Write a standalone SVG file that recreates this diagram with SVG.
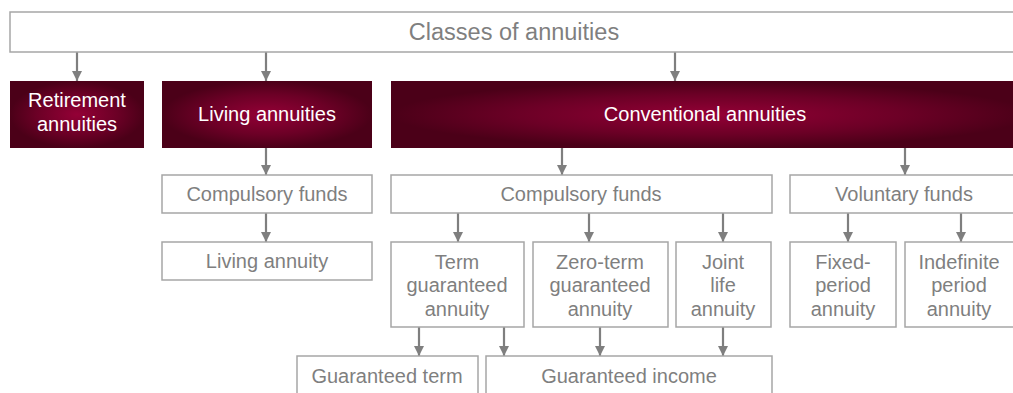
<svg xmlns="http://www.w3.org/2000/svg" width="1013" height="393" viewBox="0 0 1013 393">
<defs>
<radialGradient id="dark" cx="50%" cy="50%" r="50%" fx="50%" fy="50%">
<stop offset="0" stop-color="#940036"/>
<stop offset="0.6" stop-color="#6c0026"/>
<stop offset="1" stop-color="#4b0018"/>
</radialGradient>
<marker id="arr" markerUnits="userSpaceOnUse" markerWidth="10" markerHeight="10" refX="10" refY="5" orient="auto" viewBox="0 0 10 10">
<path d="M0,0 L10,5 L0,10 Z" fill="#7f7f7f"/>
</marker>
</defs>
<style>
.box{fill:#fff;stroke:#a6a6a6;stroke-width:1.5}
.dbox{fill:url(#dark);stroke:none}
.t{font-family:"Liberation Sans",Arial,sans-serif;font-size:20px;fill:#7f7f7f;text-anchor:middle}
.w{fill:#ffffff}
.c line{stroke:#7f7f7f;stroke-width:2.2;marker-end:url(#arr)}
</style>
<rect width="1013" height="393" fill="#fff"/>
<g class="c" id="connectors">
<line x1="77" y1="52" x2="77" y2="81"/>
<line x1="266" y1="52" x2="266" y2="81"/>
<line x1="675" y1="52" x2="675" y2="81"/>
<line x1="266" y1="148" x2="266" y2="175"/>
<line x1="266" y1="213" x2="266" y2="242"/>
<line x1="562" y1="148" x2="562" y2="175"/>
<line x1="905" y1="148" x2="905" y2="175"/>
<line x1="458" y1="213" x2="458" y2="242"/>
<line x1="589" y1="213" x2="589" y2="242"/>
<line x1="723" y1="213" x2="723" y2="242"/>
<line x1="848" y1="213" x2="848" y2="242"/>
<line x1="961" y1="213" x2="961" y2="242"/>
<line x1="419" y1="327" x2="419" y2="356"/>
<line x1="504" y1="327" x2="504" y2="356"/>
<line x1="600" y1="327" x2="600" y2="356"/>
<line x1="723" y1="327" x2="723" y2="356"/>
</g>
<g id="classes"><rect class="box" x="10" y="12" width="1010" height="40"/><text class="t" x="514" y="40" style="font-size:23.5px">Classes of annuities</text></g>
<g id="retirement"><rect class="dbox" x="10" y="81" width="134" height="67"/><text class="t w" x="77" y="107">Retirement</text><text class="t w" x="77" y="131">annuities</text></g>
<g id="living"><rect class="dbox" x="162" y="81" width="210" height="67"/><text class="t w" x="267" y="121">Living annuities</text></g>
<g id="conventional"><rect class="dbox" x="391" y="81" width="640" height="67"/><text class="t w" x="705" y="121">Conventional annuities</text></g>
<g id="compulsory-living"><rect class="box" x="162" y="175" width="210" height="38"/><text class="t" x="267" y="201">Compulsory funds</text></g>
<g id="living-annuity"><rect class="box" x="162" y="242" width="210" height="38"/><text class="t" x="267" y="268">Living annuity</text></g>
<g id="compulsory-conv"><rect class="box" x="391" y="175" width="381" height="38"/><text class="t" x="581" y="201">Compulsory funds</text></g>
<g id="voluntary"><rect class="box" x="790" y="175" width="240" height="38"/><text class="t" x="904" y="201">Voluntary funds</text></g>
<g id="term"><rect class="box" x="391" y="242" width="133" height="85"/><text class="t" x="457" y="269">Term</text><text class="t" x="457" y="292">guaranteed</text><text class="t" x="457" y="316">annuity</text></g>
<g id="zero-term"><rect class="box" x="533" y="242" width="135" height="85"/><text class="t" x="600" y="269">Zero-term</text><text class="t" x="600" y="292">guaranteed</text><text class="t" x="600" y="316">annuity</text></g>
<g id="joint"><rect class="box" x="676" y="242" width="95" height="85"/><text class="t" x="723" y="269">Joint</text><text class="t" x="723" y="292">life</text><text class="t" x="723" y="316">annuity</text></g>
<g id="fixed"><rect class="box" x="790" y="242" width="106" height="85"/><text class="t" x="843" y="269">Fixed-</text><text class="t" x="843" y="292">period</text><text class="t" x="843" y="316">annuity</text></g>
<g id="indefinite"><rect class="box" x="905" y="242" width="125" height="85"/><text class="t" x="959" y="269">Indefinite</text><text class="t" x="959" y="292">period</text><text class="t" x="959" y="316">annuity</text></g>
<g id="guaranteed-term"><rect class="box" x="297" y="356" width="181" height="50"/><text class="t" x="387" y="383">Guaranteed term</text></g>
<g id="guaranteed-income"><rect class="box" x="486" y="356" width="286" height="50"/><text class="t" x="629" y="383">Guaranteed income</text></g>
</svg>
